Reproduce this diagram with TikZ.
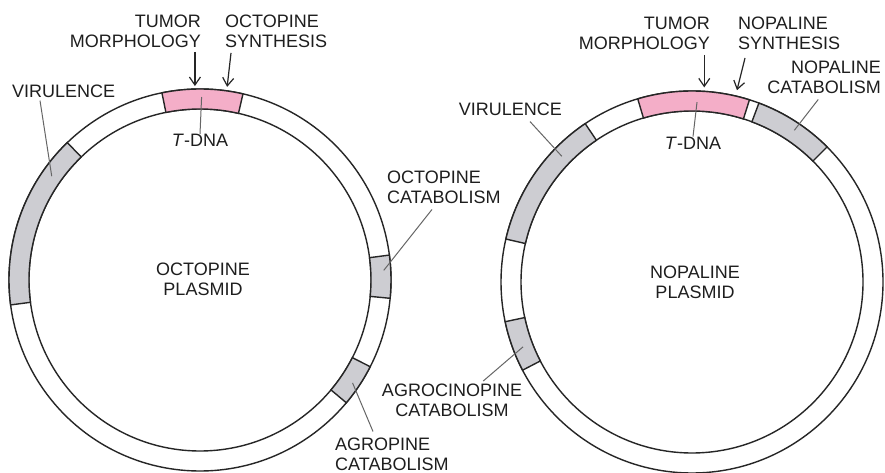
\documentclass[tikz,border=0pt]{standalone}
\usepackage{fontspec}
\setmainfont{Liberation Sans}
\usetikzlibrary{arrows.meta,calc}
\definecolor{tpink}{HTML}{F4AEC8}
\definecolor{sgray}{HTML}{CDCDD2}
\definecolor{ink}{HTML}{1E1E1E}
\newcommand\ringseg[4]{%
  \filldraw[fill=#4, ringline, shift={(#1)}] (#2:191) arc[start angle=#2, end angle=#3, radius=191]
    -- (#3:171) arc[start angle=#3, end angle=#2, radius=171] -- cycle;}
\begin{document}
\begin{tikzpicture}[x=1pt,y=1pt,
  lab/.style={font=\fontsize{18}{19.8}\selectfont, text=ink, inner sep=0pt},
  ringline/.style={draw=black!85, line width=1.4pt},
  leader/.style={draw=black!60, line width=1pt},
  arr/.style={draw=black!85, line width=1.2pt, -{Straight Barb[length=8pt,width=11pt]}}]
\useasboundingbox (0,0) rectangle (885,473);
\fill[white] (0,0) rectangle (885,473);

\coordinate (L) at (200,193);
\coordinate (Rc) at (692,191);

% ---- left ring: octopine plasmid
\draw[ringline] (L) circle[radius=191];
\draw[ringline] (L) circle[radius=171];
\ringseg{L}{77}{101.5}{tpink}
\ringseg{L}{134}{187.5}{sgray}
\ringseg{L}{-5.5}{7.5}{sgray}
\ringseg{L}{-40}{-27}{sgray}

% ---- right ring: nopaline plasmid
\draw[ringline] (Rc) circle[radius=191];
\draw[ringline] (Rc) circle[radius=171];
\ringseg{Rc}{72.5}{106.5}{tpink}
\ringseg{Rc}{45}{69.5}{sgray}
\ringseg{Rc}{124}{167}{sgray}
\ringseg{Rc}{192}{207.5}{sgray}

% ---- coordinates on the rings
\coordinate (tipTL) at ($(L)+(91.5:194)$);
\coordinate (tipOS) at ($(L)+(82:195)$);
\coordinate (virLend) at ($(L)+(145:181)$);
\coordinate (tdLend) at ($(L)+(89.5:183)$);
\coordinate (octCend) at ($(L)+(3:184)$);
\coordinate (agroend) at ($(L)+(-34:184)$);
\coordinate (tipTR) at ($(Rc)+(86.4:195)$);
\coordinate (tipNS) at ($(Rc)+(76.8:197)$);
\coordinate (nopCend) at ($(Rc)+(56:183)$);
\coordinate (virRend) at ($(Rc)+(136:181)$);
\coordinate (tdRend) at ($(Rc)+(88.4:180)$);
\coordinate (agrocend) at ($(Rc)+(201:181)$);

% ---- left labels
\node[lab, anchor=east, align=right] (tumL) at (201,441.5) {TUMOR\\MORPHOLOGY};
\node[lab, anchor=west, align=left] (octS) at (225,441.5) {OCTOPINE\\SYNTHESIS};
\node[lab, anchor=west] (virL) at (12,382) {VIRULENCE};
\node[lab] (tdnaL) at (200,332.5) {\textit{T}-DNA};
\node[lab, anchor=west, align=left] (octC) at (387,286) {OCTOPINE\\CATABOLISM};
\node[lab, align=center] (plasL) at (203,194) {OCTOPINE\\PLASMID};
\node[lab, anchor=west, align=left] (agro) at (335,19) {AGROPINE\\CATABOLISM};

% ---- right labels
\node[lab, anchor=east, align=right] (tumR) at (710,439.5) {TUMOR\\MORPHOLOGY};
\node[lab, anchor=west, align=left] (nopS) at (738,439.5) {NOPALINE\\SYNTHESIS};
\node[lab, anchor=east, align=right] (nopC) at (881,396) {NOPALINE\\CATABOLISM};
\node[lab, anchor=east] (virR) at (562,364) {VIRULENCE};
\node[lab] (tdnaR) at (693,330) {\textit{T}-DNA};
\node[lab, align=center] (plasR) at (695,191) {NOPALINE\\PLASMID};
\node[lab, align=center] (agroc) at (452,72.5) {AGROCINOPINE\\CATABOLISM};

% ---- arrows
\draw[arr, shorten <=4pt] (tumL.south east -| tipTL) -- (tipTL);
\draw[arr] ($(octS.south west)+(6,-5)$) -- (tipOS);
\draw[arr, shorten <=5pt] (tumR.south east -| tipTR) -- (tipTR);
\draw[arr] ($(nopS.south west)+(7,-8)$) -- (tipNS);

% ---- leaders
\draw[leader] ($(virL.south west)+(28,-3)$) -- (virLend);
\draw[leader] (tdLend) -- (tdnaL.north);
\draw[leader] ($(octC.south west)+(45,-6)$) -- (octCend);
\draw[leader] ($(agro.north west)+(38,6)$) -- (agroend);
\draw[leader] ($(nopC.south west)+(51,-6)$) -- (nopCend);
\draw[leader] ($(virR.south east)+(-32,-6)$) -- (virRend);
\draw[leader] (tdRend) -- (tdnaR.north);
\draw[leader] ($(agroc.north east)+(-39,3)$) -- (agrocend);
\end{tikzpicture}
\end{document}
